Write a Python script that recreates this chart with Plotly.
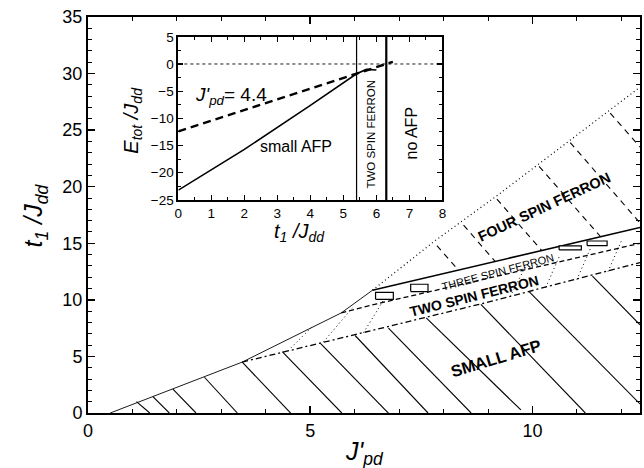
import plotly.graph_objects as go

# ---------------- data ----------------
# main-plot phase boundaries (x = J'pd, y = t1/Jdd)
thin_bound_x = [0.5, 3.47, 5.7, 6.4]
thin_bound_y = [0.0, 4.5, 8.85, 10.85]
solid_bound_x = [6.4, 12.42]
solid_bound_y = [10.85, 16.4]
dash_bound_x = [5.7, 6.5, 12.42]
dash_bound_y = [8.85, 9.65, 15.0]
dashdot_bound_x = [3.47, 6.0, 8.9, 12.42]
dashdot_bound_y = [4.5, 6.9, 9.7, 13.3]
dot_bound_x = [6.4, 7.8, 9.2, 12.42]
dot_bound_y = [10.85, 15.2, 19.2, 28.8]

# hatch lines, SMALL AFP region (solid)
afp_x0 = [1.09, 1.46, 1.91, 2.62, 3.47, 4.37, 5.23, 6.01, 6.76, 7.61, 8.84, 9.93, 11.35]
afp_y0 = [1.0, 1.44, 2.1, 3.16, 4.5, 5.42, 6.16, 6.85, 7.5, 8.4, 9.6, 10.7, 12.1]
afp_x1 = [1.39, 1.83, 2.43, 3.36, 4.63, 5.71, 6.83, 7.65, 8.62, 9.74, 11.19, 12.42, 12.42]
afp_y1 = [0.0, 0.0, 0.0, 0.0, -0.3, 0.0, -0.3, 0.0, 0.0, 0.27, 0.0, 0.8, 7.8]

# hatch lines, FOUR SPIN FERRON region (dashed)
four_x0 = [7.85, 8.45, 9.2, 10.15, 10.85, 11.75]
four_y0 = [14.8, 16.6, 18.9, 21.8, 23.9, 26.5]
four_x1 = [8.33, 9.16, 10.21, 11.53, 12.42, 12.42]
four_y1 = [12.64, 13.4, 14.36, 15.6, 16.8, 23.5]

# hatch lines, TWO / THREE SPIN FERRON regions (dotted)
two_x0 = [4.5, 5.3, 6.2, 9.5, 10.3, 11.0, 11.7]
two_y0 = [5.5, 6.3, 7.1, 10.3, 11.1, 11.8, 12.5]
two_x1 = [5.05, 5.95, 6.7, 9.85, 10.6, 11.3, 12.0]
two_y1 = [7.65, 9.3, 10.3, 13.0, 13.8, 14.5, 15.2]

# small open rectangles
box_x0 = [6.47, 7.26, 10.6, 11.23]
box_x1 = [6.87, 7.65, 11.1, 11.68]
box_y0 = [10.05, 10.73, 14.41, 14.8]
box_y1 = [10.67, 11.38, 14.77, 15.2]

# region labels
region_text = ["FOUR SPIN FERRON", "THREE SPIN FERRON", "TWO SPIN FERRON", "SMALL AFP"]
region_x = [10.26, 9.22, 8.68, 9.19]
region_y = [18.24, 12.5, 10.36, 4.9]
region_angle = [-25, -15, -14, -17]
region_size = [14.5, 11, 14, 16.5]

# inset (x = t1/Jdd, y = Etot/Jdd)
ins_solid_t = [0, 2, 4, 5.4, 5.7, 6.0]
ins_solid_e = [-23.2, -15.7, -7.6, -1.8, -1.0, -1.1]
ins_dash_t = [0, 5.4, 6.3, 6.5]
ins_dash_e = [-12.4, -1.8, 0.0, 0.4]
ins_vline_thin = 5.4
ins_vline_thick = 6.3

FONT = "Liberation Sans, Arial, sans-serif"


def segs(x0, y0, x1, y1):
    xs, ys = [], []
    for a, b, c, d in zip(x0, y0, x1, y1):
        xs += [a, c, None]
        ys += [b, d, None]
    return xs, ys


fig = go.Figure()

def line(x, y, width=1.0, dash="solid", xa="x", ya="y"):
    fig.add_trace(go.Scatter(x=x, y=y, mode="lines", xaxis=xa, yaxis=ya,
                             line=dict(color="black", width=width, dash=dash),
                             hoverinfo="skip", showlegend=False))

# hatching
hx, hy = segs(afp_x0, afp_y0, afp_x1, afp_y1)
line(hx, hy, 1.1)
hx, hy = segs(four_x0, four_y0, four_x1, four_y1)
line(hx, hy, 1.1, "6px,5px")
hx, hy = segs(two_x0, two_y0, two_x1, two_y1)
line(hx, hy, 1.0, "1px,3px")

# boundaries
line(thin_bound_x, thin_bound_y, 0.9)
line(solid_bound_x, solid_bound_y, 1.6)
line(dash_bound_x, dash_bound_y, 1.3, "5px,3px")
line(dashdot_bound_x, dashdot_bound_y, 1.3, "6px,3px,2px,3px")
line(dot_bound_x, dot_bound_y, 1.2, "1px,3px")

# rectangles
for a, b, c, d in zip(box_x0, box_x1, box_y0, box_y1):
    fig.add_trace(go.Scatter(x=[a, b, b, a, a], y=[c, c, d, d, c], mode="lines",
                             fill="toself", fillcolor="white",
                             line=dict(color="black", width=1.2),
                             hoverinfo="skip", showlegend=False))

# inset traces
line([0, 8], [0, 0], 0.9, "3px,3px", "x2", "y2")
line([ins_vline_thin, ins_vline_thin], [-25, 5], 1.2, "solid", "x2", "y2")
line([ins_vline_thick, ins_vline_thick], [-25, 5], 2.2, "solid", "x2", "y2")
line(ins_solid_t, ins_solid_e, 1.6, "solid", "x2", "y2")
line(ins_dash_t, ins_dash_e, 2.4, "8px,5px", "x2", "y2")

axis_common = dict(showline=True, linewidth=2, linecolor="black", mirror="ticks",
                   ticks="inside", tickcolor="black", showgrid=False, zeroline=False,
                   tickfont=dict(family=FONT, size=18, color="black"))
inset_font = dict(family=FONT, size=13.5, color="black")

fig.update_layout(
    width=644, height=468,
    margin=dict(l=88, r=0, t=17, b=55),
    paper_bgcolor="white", plot_bgcolor="white",
    font=dict(family=FONT, color="black"),
    xaxis=dict(**axis_common, domain=[0, 1], anchor="y", range=[0, 12.42],
               tick0=0, dtick=5, ticklen=7, tickwidth=1.5,
               minor=dict(dtick=1, ticklen=4, tickwidth=1, ticks="inside", tickcolor="black")),
    yaxis=dict(**axis_common, domain=[0, 1], anchor="x", range=[0, 35],
               tick0=0, dtick=5, ticklen=7, tickwidth=1.5,
               minor=dict(dtick=1, ticklen=4, tickwidth=1, ticks="inside", tickcolor="black")),
    xaxis2=dict(**{**axis_common, "tickfont": inset_font},
                domain=[0.1637, 0.642], anchor="y2", range=[0, 8], tick0=0, dtick=1,
                ticklen=5, tickwidth=1.3,
                minor=dict(dtick=0.5, ticklen=3, tickwidth=1, ticks="inside", tickcolor="black")),
    yaxis2=dict(**{**axis_common, "tickfont": inset_font},
                domain=[0.538, 0.950], anchor="x2", range=[-25, 5], tick0=0, dtick=5,
                ticklen=5, tickwidth=1.3,
                minor=dict(dtick=2.5, ticklen=3, tickwidth=1, ticks="inside", tickcolor="black")),
)

def A(text, x, y, xref, yref, size, angle=0):
    return dict(text=text, x=x, y=y, xref=xref, yref=yref, textangle=angle,
                xanchor="center", yanchor="middle", showarrow=False,
                font=dict(family=FONT, size=size, color="black"))

ann = []
for t, x, y, a, s in zip(region_text, region_x, region_y, region_angle, region_size):
    ann.append(A(f"<b>{t}</b>" if s > 12 else t, x, y, "x", "y", s, a))

# axis titles
ann.append(A("<i>t</i><sub><i>1</i></sub><i> /J</i><sub><i>dd</i></sub>",
             -0.0953, 0.5, "paper", "paper", 25, -90))
ann.append(A("<i>J'</i><sub><i>pd</i></sub>", 0.5, -0.1, "paper", "paper", 25))
ann.append(A("<i>E</i><sub><i>tot</i></sub><i> /J</i><sub><i>dd</i></sub>",
             0.081, 0.74, "paper", "paper", 20, -90))
ann.append(A("<i>t</i><sub><i>1</i></sub><i> /J</i><sub><i>dd</i></sub>",
             0.383, 0.455, "paper", "paper", 20))

# inset texts
ann.append(A("<i>J'</i><sub><i>pd</i></sub>= 4.4", 1.6, -5.8, "x2", "y2", 19))
ann.append(A("small AFP", 3.57, -15.2, "x2", "y2", 16))
ann.append(A("TWO SPIN FERRON", 5.85, -12.9, "x2", "y2", 11.5, -90))
ann.append(A("no AFP", 7.06, -12.7, "x2", "y2", 16, -90))

fig.update_layout(annotations=ann)
fig.write_html("out.html", config={"displayModeBar": False, "staticPlot": True},
               post_script="document.body.style.margin='0px';document.body.style.overflow='hidden';")
